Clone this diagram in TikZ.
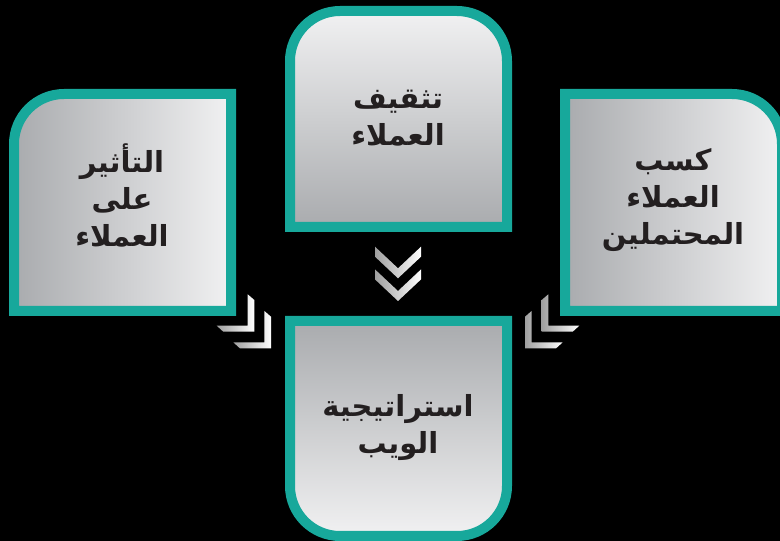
\documentclass[tikz,border=0pt]{standalone}
\usepackage{fontspec}
\newfontfamily\arabicfont[Script=Arabic]{DejaVu Sans}
\TeXXeTstate=1
\definecolor{tealb}{HTML}{17A89B}
\definecolor{gdark}{HTML}{A9ABAE}
\definecolor{glight}{HTML}{F1F1F2}
\definecolor{txt}{HTML}{231F20}
\tikzset{
  boxframe/.style={draw=tealb, line width=10pt, line join=miter},
  chev/.style={left color=gray!75, right color=white},
  lbl/.style={text=txt, align=center, font=\arabicfont\bfseries\fontsize{29}{37}\selectfont}
}
\begin{document}
\begin{tikzpicture}[x=1pt,y=1pt]
\fill[black] (0,0) rectangle (780,541);
\useasboundingbox (0,0) rectangle (780,541);
% left box
\path[boxframe, left color=gdark, right color=glight]
  (14,230) -- (14,397) arc[start angle=180,end angle=90,radius=50] -- (231,447) -- (231,230) -- cycle;
% top box
\path[boxframe, top color=glight, bottom color=gdark]
  (290,314) -- (290,480) arc[start angle=180,end angle=90,radius=50] -- (457,530) arc[start angle=90,end angle=0,radius=50] -- (507,314) -- cycle;
% right box
\path[boxframe, left color=gdark, right color=glight]
  (565,230) -- (565,447) -- (732,447) arc[start angle=90,end angle=0,radius=50] -- (782,230) -- cycle;
% bottom box
\path[boxframe, top color=gdark, bottom color=glight]
  (290,220) -- (290,55) arc[start angle=180,end angle=270,radius=50] -- (457,5) arc[start angle=270,end angle=360,radius=50] -- (507,220) -- cycle;
% down chevrons
\foreach \d in {0,22.7}{
  \shade[chev] (375,294.3-\d) -- (398,272.7-\d) -- (421,294.3-\d) -- (421,284.3-\d) -- (398,262.7-\d) -- (375,284.3-\d) -- cycle;
}
% left chevrons
\foreach \d in {0,16.7}{
  \shade[chev] (247.7+\d,246.7-\d) -- (254.3+\d,241-\d) -- (254.3+\d,209.3-\d) -- (223.3+\d,209.3-\d) -- (216.7+\d,215.3-\d) -- (247.7+\d,215.3-\d) -- cycle;
}
% right chevrons
\foreach \d in {0,16.7}{
  \shade[chev] (548.3-\d,246.7-\d) -- (541.7-\d,241-\d) -- (541.7-\d,209.3-\d) -- (572.7-\d,209.3-\d) -- (579.3-\d,215.3-\d) -- (548.3-\d,215.3-\d) -- cycle;
}
% labels
\node[lbl] (tathir) at (122,346) {\beginR التأثير\endR\\\beginR على\endR\\\beginR العملاء\endR};
\node[lbl] (tathqif) at (398,423) {\beginR تثقيف\endR\\\beginR العملاء\endR};
\node[lbl] (kasb) at (673,341) {\beginR كسب\endR\\\beginR العملاء\endR\\\beginR المحتملين\endR};
\node[lbl] (istr) at (398,113) {\beginR استراتيجية\endR\\\beginR الويب\endR};
\end{tikzpicture}
\end{document}
